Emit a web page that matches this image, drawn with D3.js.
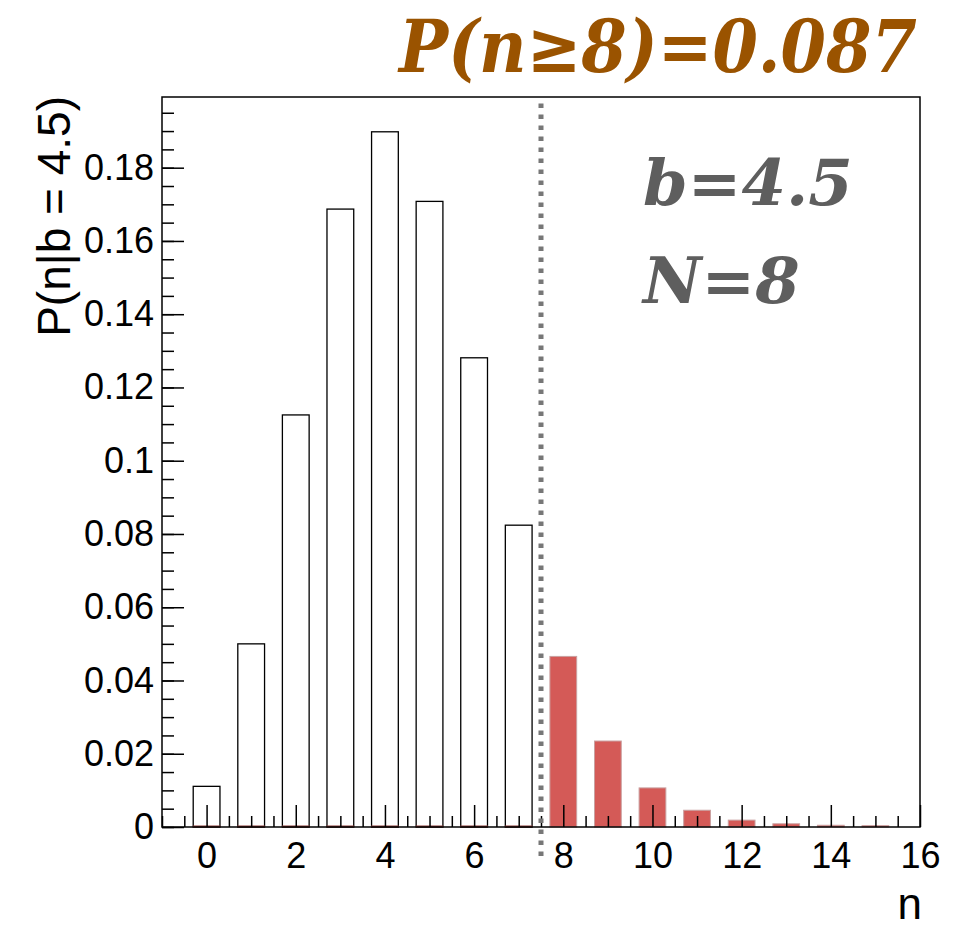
<!DOCTYPE html>
<html>
<head>
<meta charset="utf-8">
<script src="https://cdn.jsdelivr.net/npm/d3@7"></script>
<style>
  body { margin: 0; background: #fff; }
  svg { display: block; }
  .tick text { font-family: "Liberation Sans", Arial, sans-serif; font-size: 36px; fill: #000; }
</style>
</head>
<body>
<svg id="chart" width="971" height="927"></svg>
<script>
// bins and probabilities
const lowBins = [0, 1, 2, 3, 4, 5, 6, 7];
const lowProb = [0.0111, 0.0500, 0.1125, 0.1687, 0.1898, 0.1708, 0.1281, 0.0824];
const tailBins = [0, 1, 2, 3, 4, 5, 6, 7, 8, 9, 10, 11, 12, 13, 14, 15];
const tailProb = [0, 0, 0, 0, 0, 0, 0, 0, 0.0463, 0.0232, 0.0104, 0.0043, 0.0016, 0.0006, 0.0002, 0.0001];
const xTicks = [0, 2, 4, 6, 8, 10, 12, 14, 16];
const yTicks = [0, 0.02, 0.04, 0.06, 0.08, 0.1, 0.12, 0.14, 0.16, 0.18];
const yTickLabels = ['0', '0.02', '0.04', '0.06', '0.08', '0.1', '0.12', '0.14', '0.16', '0.18'];
const cutValue = 7.5;
const titleText = 'P(n\u22658)=0.087';
const infoLines = ['b=4.5', 'N=8'];

const svg = d3.select('#chart'),
      margin = { top: 97, right: 51, bottom: 100, left: 162 },
      width = +svg.attr('width') - margin.left - margin.right,
      height = +svg.attr('height') - margin.top - margin.bottom;

const g = svg.append('g')
    .attr('transform', `translate(${margin.left},${margin.top})`);

const x = d3.scaleLinear().domain([-1, 16]).range([0, width]);
const y = d3.scaleLinear().domain([0, 0.1993]).range([height, 0]);

const half = 0.3; // bar half width in bin units

// white histogram (n < 8)
g.selectAll('.low')
  .data(lowBins.map((n, i) => ({ n, p: lowProb[i] })))
  .enter().append('rect')
    .attr('class', 'low')
    .attr('x', d => x(d.n - half))
    .attr('y', d => y(d.p))
    .attr('width', x(half) - x(-half))
    .attr('height', d => height - y(d.p))
    .attr('fill', '#fff')
    .attr('stroke', '#000')
    .attr('stroke-width', 1.3);

// red tail histogram (n >= 8)
g.selectAll('.tail')
  .data(tailBins.map((n, i) => ({ n, p: tailProb[i] })))
  .enter().append('rect')
    .attr('class', 'tail')
    .attr('x', d => x(d.n - half))
    .attr('y', d => y(d.p) - 1)
    .attr('width', x(half) - x(-half))
    .attr('height', d => height - y(d.p) + 1)
    .attr('fill', '#d45a57')
    .attr('stroke', d => d.p > 0 ? '#c9a0a0' : '#8a3a36')
    .attr('stroke-width', 1);

// ticks: minor every 0.5 / 0.005, major on labelled values
const xMinor = d3.range(-1, 16.01, 0.5).filter(v => !xTicks.includes(v));
const yMinor = d3.range(0, 0.1993, 0.005);

g.append('g')
  .attr('transform', `translate(0,${height})`)
  .call(d3.axisBottom(x).tickValues(xMinor).tickSize(-11).tickFormat(''))
  .call(a => a.select('.domain').remove())
  .selectAll('line').attr('stroke-width', 1.5);

g.append('g')
  .attr('transform', `translate(0,${height})`)
  .call(d3.axisBottom(x).tickValues(xTicks).tickSize(-22).tickPadding(15).tickFormat(d3.format('d')))
  .call(a => a.select('.domain').remove())
  .selectAll('line').attr('stroke-width', 1.5);

g.append('g')
  .call(d3.axisLeft(y).tickValues(yMinor).tickSize(-12).tickFormat(''))
  .call(a => a.select('.domain').remove())
  .selectAll('line').attr('stroke-width', 1.5);

g.append('g')
  .call(d3.axisLeft(y).tickValues(yTicks).tickSize(-22).tickPadding(8)
    .tickFormat((d, i) => yTickLabels[i]))
  .call(a => a.select('.domain').remove())
  .selectAll('line').attr('stroke-width', 1.5);

// frame
g.append('rect')
  .attr('width', width)
  .attr('height', height)
  .attr('fill', 'none')
  .attr('stroke', '#000')
  .attr('stroke-width', 1.5);

// cut line
g.append('line')
  .attr('x1', x(cutValue)).attr('x2', x(cutValue))
  .attr('y1', y(0.1975)).attr('y2', y(-0.0083))
  .attr('stroke', '#777')
  .attr('stroke-width', 5)
  .attr('stroke-dasharray', '4.5,6.5');

// axis titles
svg.append('text')
  .attr('x', 922)
  .attr('y', 919)
  .attr('text-anchor', 'end')
  .style('font-family', '"Liberation Sans", Arial, sans-serif')
  .style('font-size', '44px')
  .text('n');

svg.append('text')
  .attr('transform', 'rotate(-90)')
  .attr('x', -96)
  .attr('y', 70)
  .attr('text-anchor', 'end')
  .style('font-family', '"Liberation Sans", Arial, sans-serif')
  .style('font-size', '46px')
  .text('P(n|b = 4.5)');

// big labels
svg.append('text')
  .attr('x', 399)
  .attr('y', 72)
  .attr('textLength', 518)
  .attr('lengthAdjust', 'spacingAndGlyphs')
  .style('font-family', '"DejaVu Serif", serif')
  .style('font-weight', 'bold')
  .style('font-style', 'italic')
  .style('font-size', '72px')
  .attr('fill', '#9a5300')
  .text(titleText);

svg.selectAll('.info')
  .data(infoLines)
  .enter().append('text')
    .attr('class', 'info')
    .attr('x', 643)
    .attr('y', (d, i) => 205 + i * 98)
    .style('font-family', '"DejaVu Serif", serif')
    .style('font-weight', 'bold')
    .style('font-style', 'italic')
    .style('font-size', '64px')
    .attr('fill', '#5e5e5e')
    .text(d => d);
</script>
</body>
</html>
